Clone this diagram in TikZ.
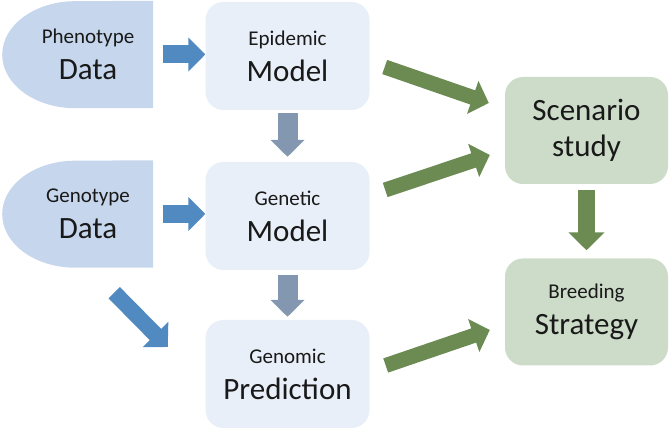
\documentclass[tikz,border=0pt]{standalone}
\usepackage{fontspec}
\setmainfont{Carlito}
\usetikzlibrary{arrows.meta, backgrounds}
\definecolor{databg}{HTML}{C6D6EC}
\definecolor{modelbg}{HTML}{E9EFF8}
\definecolor{goalbg}{HTML}{CCDCC8}
\definecolor{arrblue}{HTML}{508AC1}
\definecolor{arrgrey}{HTML}{8497B0}
\definecolor{arrgreen}{HTML}{6B8B53}
\newcommand{\smalltxt}[1]{{\fontsize{21}{24}\selectfont #1}}

\begin{document}
\begin{tikzpicture}[
    x=1pt, y=1pt,
    every node/.style={font=\fontsize{31}{36}\selectfont, align=center, text=black!90},
    databox/.style={minimum width=130pt, minimum height=107pt, inner sep=0pt},
    modelbox/.style={fill=modelbg, rounded corners=18pt, minimum width=164pt, minimum height=108pt, inner sep=0pt},
    goalbox/.style={fill=goalbg, rounded corners=18pt, minimum width=163pt, minimum height=107pt, inner sep=0pt},
    bluearr/.style={draw=arrblue, line width=18pt, -{Triangle[width=33pt, length=17pt]}},
    greyarr/.style={draw=arrgrey, line width=20pt, -{Triangle[width=33pt, length=17pt]}},
    greenarr/.style={draw=arrgreen, line width=15pt, -{Triangle[width=34pt, length=17pt]}}
]
\useasboundingbox (0,0) rectangle (670,430);

% Data sources
\node[databox] (pheno) at (88, 375.5) {\smalltxt{Phenotype}\\Data};
\node[databox] (geno) at (88, 216) {\smalltxt{Genotype}\\Data};
\begin{scope}[on background layer]
\fill[databg] (pheno.north east) -- (pheno.south east) -- ++(-78,0)
    arc[start angle=270, end angle=90, x radius=73, y radius=53.5] -- cycle;
\fill[databg] (geno.north east) -- (geno.south east) -- ++(-78,0)
    arc[start angle=270, end angle=90, x radius=73, y radius=53.5] -- cycle;
\end{scope}

% Models
\node[modelbox] (epi) at (287.5, 374) {\smalltxt{Epidemic}\\Model};
\node[modelbox] (gen) at (287.5, 214) {\smalltxt{Genetic}\\Model};
\node[modelbox] (genom) at (287.5, 56) {\smalltxt{Genomic}\\Prediction};

% Outcomes
\node[goalbox] (scen) at (586.5, 299.5) {Scenario\\study};
\node[goalbox] (breed) at (586.5, 118) {\smalltxt{Breeding}\\Strategy};

% Inputs to models
\draw[bluearr] ([xshift=10pt]pheno.east) -- (pheno.east -| epi.west);
\draw[bluearr] ([xshift=10pt]geno.east) -- (geno.east -| gen.west);
\coordinate (gtail) at ([shift={(-39pt,-25pt)}]geno.south east);
\coordinate (gtip) at ([shift={(-37.5pt,27pt)}]genom.west);
\draw[bluearr, line width=16pt, -{Triangle[width=35pt, length=17.5pt]}] (gtail) -- (gtip);

% Model chain
\draw[greyarr] ([yshift=-3pt]epi.south) -- ([yshift=5pt]gen.north);
\draw[greyarr] ([yshift=-5pt]gen.south) -- ([yshift=3pt]genom.north);

% Models to outcomes
\draw[greenarr] ([shift={(15pt,-11pt)}]epi.east) -- ([shift={(-16pt,27.5pt)}]scen.west);
\draw[greenarr] ([shift={(15.5pt,26pt)}]gen.east) -- ([shift={(-15pt,-24.5pt)}]scen.west);
\draw[greenarr] ([shift={(16pt,8.5pt)}]genom.east) -- ([shift={(-15pt,-18pt)}]breed.west);
\draw[greenarr, line width=17pt, -{Triangle[width=35pt, length=18pt]}] ([yshift=-6pt]scen.south) -- ([yshift=8pt]breed.north);
\end{tikzpicture}
\end{document}
